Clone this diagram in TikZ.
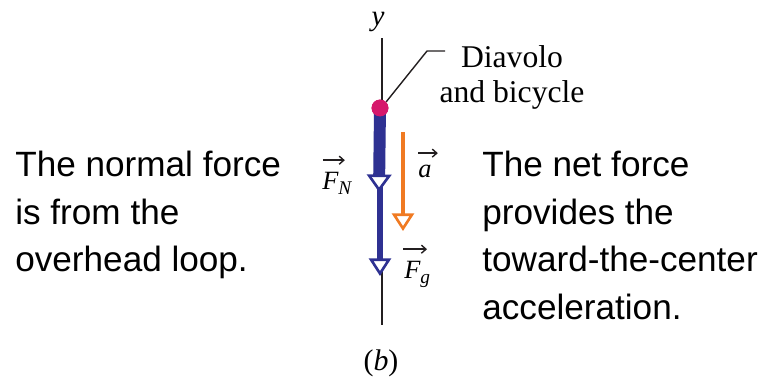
\documentclass[tikz,border=0pt]{standalone}
\usepackage{fontspec}
\setmainfont{Liberation Serif}
\setsansfont{Liberation Sans}
\usetikzlibrary{arrows.meta}
\definecolor{fbblue}{HTML}{2E3192}
\definecolor{fbpink}{HTML}{D6186C}
\definecolor{fborange}{HTML}{F07A22}
\definecolor{fbink}{HTML}{231F20}
\newcommand{\flab}[2]{%
  {\itshape #1}\raisebox{-0.22em}{\fontsize{11}{11}\selectfont\itshape #2}}

\begin{document}
\begin{tikzpicture}[
  x=0.02cm, y=-0.02cm,
  axis/.style   = {draw=fbink, line width=1.1pt},
  force/.style  = {draw=fbblue, -{Triangle[open, fill=white, length=10pt,
                   width=#1, line width=1.5pt]}},
  accel/.style  = {draw=fborange, line width=2.8pt, -{Triangle[open,
                   fill=white, length=10pt, width=12.5pt, line width=1.5pt]}},
  vecbar/.style = {draw=fbink, line width=0.8pt,
                   -{Straight Barb[length=2.6pt, width=4.6pt]}},
  body/.style   = {circle, fill=fbpink, inner sep=0pt, minimum size=9.6pt},
  lead/.style   = {draw=fbink, line width=0.8pt},
  vlab/.style   = {font=\fontsize{15}{17}\selectfont, inner sep=0pt,
                   anchor=base west},
  note/.style   = {font=\sffamily\fontsize{20}{27}\selectfont,
                   align=left, inner sep=0pt, anchor=north west},
  tag/.style    = {font=\fontsize{18}{19.8}\selectfont, align=center,
                   inner sep=0pt, anchor=north},
]
\useasboundingbox (0,0) rectangle (765,380);
\coordinate (ytop) at (382,38);
\coordinate (ybot) at (382,325);
\draw[axis] (ytop) -- (ybot);
\node[vlab, font=\fontsize{16.5}{18}\selectfont, anchor=base] (ylab)
  at (378,25) {\textit{y}};
\node[body] (bike) at (380,108) {};
\coordinate (fgtip) at (380,276);
\coordinate (fntip) at (379,192);
\draw[force=12.5pt, line width=3.4pt] (bike.center) -- (fgtip);
\draw[force=14pt, line width=6.8pt] (bike.center) -- (fntip);
\node[body] at (bike) {};
\coordinate (atop) at (403,132);
\coordinate (atip) at (403,231);
\draw[accel] (atop) -- (atip);
\node[vlab] (fn) at (322,189) {\flab{F}{N}};
\node[vlab] (alab) at (418,177) {\flab{a}{}};
\node[vlab] (fg) at (404,278) {\flab{F}{g}};
\draw[vecbar] ([xshift=0.5pt, yshift=16.4pt]fn.base west) -- ++(12.5pt,0);
\draw[vecbar] ([yshift=13.6pt]alab.base west) -- ++(11.3pt,0);
\draw[vecbar] ([xshift=-0.5pt, yshift=16.4pt]fg.base west) -- ++(13.6pt,0);
\node[tag] (rider) at (512,45) {Diavolo\\and bicycle};
\coordinate (bend) at (427,51);
\coordinate (leadend) at (445,51);
\draw[lead] (bike.45) -- (bend) -- (leadend);
\node[note] (normal) at (15,151)
  {The normal force\\is from the\\overhead loop.};
\node[note] (net) at (482,151)
  {The net force\\provides the\\toward-the-center\\acceleration.};
\node[vlab, font=\fontsize{17}{19}\selectfont, anchor=base] (part)
  at (381,370) {(\textit{b})};
\end{tikzpicture}
\end{document}
